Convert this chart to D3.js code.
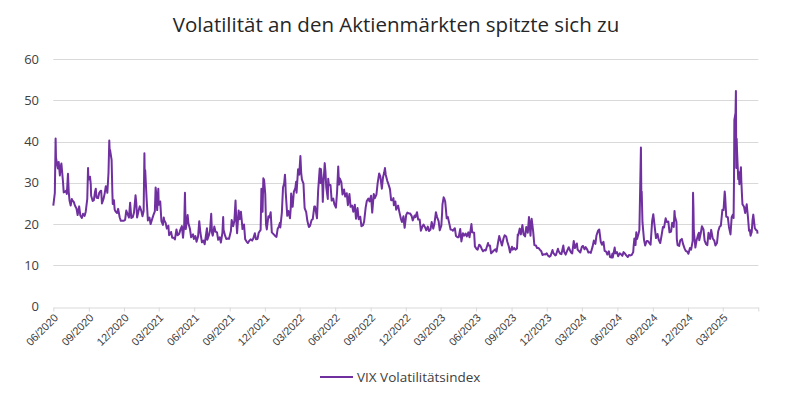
<!DOCTYPE html>
<html>
<head>
<meta charset="utf-8">
<script src="https://cdn.jsdelivr.net/npm/d3@7"></script>
<style>
  body { margin: 0; background: #fff; }
  svg { display: block; font-family: "Open Sans", "Noto Sans", sans-serif; }
  .grid line { stroke: #d9d9d9; stroke-width: 1; }
  .axis .domain, .axis line { stroke: #d9d9d9; }
  .axis text { fill: #404040; }
</style>
</head>
<body>
<svg width="792" height="395"></svg>
<script>
// VIX closing values (date, value)
var vix2020 = [["2020-06-05",24.5],["2020-06-09",27.6],["2020-06-11",40.8],["2020-06-12",36.1],["2020-06-15",34.4],["2020-06-17",33.5],["2020-06-19",35.1],["2020-06-22",31.8],["2020-06-24",33.8],["2020-06-26",34.7],["2020-06-30",30.4],["2020-07-02",27.7],["2020-07-06",27.9],["2020-07-08",28.1],["2020-07-10",27.3],["2020-07-13",32.2],["2020-07-15",27.8],["2020-07-17",25.7],["2020-07-20",24.5],["2020-07-23",26.1],["2020-07-24",25.8],["2020-07-28",25.4],["2020-07-31",24.5],["2020-08-04",23.8],["2020-08-07",22.2],["2020-08-11",24.3],["2020-08-14",22.1],["2020-08-18",21.5],["2020-08-21",22.5],["2020-08-25",22.0],["2020-08-28",23.0],["2020-09-01",26.1],["2020-09-03",33.6],["2020-09-04",30.8],["2020-09-08",31.5],["2020-09-10",29.7],["2020-09-11",26.9],["2020-09-15",25.6],["2020-09-18",25.8],["2020-09-21",27.8],["2020-09-23",28.6],["2020-09-25",26.4],["2020-09-29",26.3],["2020-10-02",27.6],["2020-10-05",28.0],["2020-10-07",28.1],["2020-10-09",25.0],["2020-10-13",26.1],["2020-10-16",27.4],["2020-10-19",29.2],["2020-10-21",28.7],["2020-10-23",27.6],["2020-10-26",32.5],["2020-10-28",40.3],["2020-10-29",37.6],["2020-10-30",38.0],["2020-11-03",35.6],["2020-11-05",27.6],["2020-11-06",24.9],["2020-11-09",25.8],["2020-11-11",23.5],["2020-11-13",23.1],["2020-11-17",22.7],["2020-11-20",23.7],["2020-11-24",21.6],["2020-11-27",20.8],["2020-12-01",20.8],["2020-12-04",20.8],["2020-12-08",21.0],["2020-12-11",23.3],["2020-12-15",22.3],["2020-12-18",21.6],["2020-12-21",25.2],["2020-12-24",21.5],["2020-12-28",21.7],["2020-12-31",22.8]];

var vix2021 = [["2021-01-04",27.0],["2021-01-06",25.1],["2021-01-08",21.6],["2021-01-12",23.3],["2021-01-15",24.3],["2021-01-19",23.2],["2021-01-22",21.9],["2021-01-25",23.2],["2021-01-27",37.2],["2021-01-28",30.2],["2021-01-29",33.1],["2021-02-02",25.6],["2021-02-05",20.9],["2021-02-09",21.6],["2021-02-12",20.0],["2021-02-17",21.5],["2021-02-19",22.1],["2021-02-23",23.1],["2021-02-25",28.9],["2021-02-26",28.0],["2021-03-01",23.4],["2021-03-04",28.6],["2021-03-05",24.7],["2021-03-09",25.5],["2021-03-12",20.7],["2021-03-16",19.8],["2021-03-18",21.6],["2021-03-19",21.0],["2021-03-23",20.3],["2021-03-26",18.9],["2021-03-30",19.6],["2021-04-01",17.3],["2021-04-06",18.1],["2021-04-09",16.7],["2021-04-13",16.7],["2021-04-16",16.3],["2021-04-20",18.7],["2021-04-23",17.3],["2021-04-27",17.6],["2021-04-30",18.6],["2021-05-04",19.5],["2021-05-07",16.7],["2021-05-10",19.7],["2021-05-12",27.6],["2021-05-13",23.1],["2021-05-14",18.8],["2021-05-18",21.3],["2021-05-19",22.2],["2021-05-21",20.2],["2021-05-25",18.8],["2021-05-28",16.8],["2021-06-02",17.5],["2021-06-04",16.4],["2021-06-08",17.1],["2021-06-11",15.7],["2021-06-15",17.0],["2021-06-18",20.7],["2021-06-21",17.9],["2021-06-25",15.6],["2021-06-29",16.0],["2021-07-02",15.1],["2021-07-08",19.0],["2021-07-09",16.2],["2021-07-13",17.3],["2021-07-16",18.5],["2021-07-19",22.5],["2021-07-21",17.9],["2021-07-23",17.2],["2021-07-27",19.4],["2021-07-30",18.2],["2021-08-03",18.0],["2021-08-06",16.2],["2021-08-10",16.8],["2021-08-13",15.5],["2021-08-17",17.9],["2021-08-19",21.7],["2021-08-20",18.6],["2021-08-24",17.2],["2021-08-27",16.4],["2021-08-31",16.5],["2021-09-03",16.4],["2021-09-08",18.3],["2021-09-10",21.0],["2021-09-14",19.5],["2021-09-17",20.8],["2021-09-20",25.7],["2021-09-22",20.9],["2021-09-24",17.8],["2021-09-28",23.3],["2021-10-01",21.2],["2021-10-04",23.0],["2021-10-06",21.0],["2021-10-08",18.8],["2021-10-12",19.9],["2021-10-15",16.3],["2021-10-19",15.7],["2021-10-22",15.4],["2021-10-26",16.0],["2021-10-29",16.3],["2021-11-02",16.0],["2021-11-05",16.5],["2021-11-09",17.8],["2021-11-12",16.3],["2021-11-16",16.4],["2021-11-19",17.9],["2021-11-24",18.6],["2021-11-26",28.6],["2021-11-29",23.0],["2021-11-30",27.2],["2021-12-01",31.1],["2021-12-03",30.7],["2021-12-06",27.2],["2021-12-08",19.9],["2021-12-10",18.7],["2021-12-14",21.9],["2021-12-17",21.6],["2021-12-20",22.9],["2021-12-23",18.0],["2021-12-28",17.5],["2021-12-31",17.2]];

var vix2022 = [["2022-01-04",16.9],["2022-01-07",18.8],["2022-01-10",19.4],["2022-01-13",20.3],["2022-01-14",19.2],["2022-01-18",22.8],["2022-01-21",28.9],["2022-01-24",29.9],["2022-01-26",32.0],["2022-01-27",30.5],["2022-01-28",27.7],["2022-02-01",22.0],["2022-02-04",23.2],["2022-02-08",21.4],["2022-02-10",23.9],["2022-02-11",27.4],["2022-02-15",24.2],["2022-02-18",27.8],["2022-02-22",28.8],["2022-02-24",30.3],["2022-02-25",27.6],["2022-03-01",33.3],["2022-03-04",32.0],["2022-03-07",36.5],["2022-03-09",32.5],["2022-03-11",30.8],["2022-03-15",29.8],["2022-03-17",25.7],["2022-03-18",23.9],["2022-03-22",22.9],["2022-03-25",20.8],["2022-03-29",19.3],["2022-04-01",19.6],["2022-04-05",21.0],["2022-04-08",21.2],["2022-04-12",24.3],["2022-04-14",24.3],["2022-04-19",21.4],["2022-04-22",28.2],["2022-04-26",33.5],["2022-04-28",30.0],["2022-04-29",33.4],["2022-05-03",29.3],["2022-05-04",25.4],["2022-05-06",30.2],["2022-05-09",34.8],["2022-05-11",32.6],["2022-05-13",28.9],["2022-05-17",26.1],["2022-05-18",31.0],["2022-05-20",29.4],["2022-05-24",29.5],["2022-05-27",25.7],["2022-05-31",26.2],["2022-06-03",24.8],["2022-06-07",24.0],["2022-06-10",27.8],["2022-06-13",34.0],["2022-06-15",29.6],["2022-06-17",31.1],["2022-06-21",30.2],["2022-06-24",27.2],["2022-06-28",28.4],["2022-07-01",26.7],["2022-07-05",27.5],["2022-07-08",24.6],["2022-07-12",27.3],["2022-07-15",24.2],["2022-07-19",24.5],["2022-07-22",23.0],["2022-07-26",24.7],["2022-07-29",21.3],["2022-08-02",23.9],["2022-08-05",21.2],["2022-08-09",21.8],["2022-08-12",19.5],["2022-08-16",19.7],["2022-08-19",20.6],["2022-08-23",24.0],["2022-08-26",25.6],["2022-08-30",26.2],["2022-09-02",25.5],["2022-09-06",26.9],["2022-09-09",22.8],["2022-09-13",27.3],["2022-09-16",26.3],["2022-09-20",27.2],["2022-09-23",29.9],["2022-09-27",32.3],["2022-09-29",31.8],["2022-09-30",31.6],["2022-10-04",28.6],["2022-10-07",31.4],["2022-10-10",32.5],["2022-10-12",33.6],["2022-10-14",32.0],["2022-10-18",30.5],["2022-10-21",29.7],["2022-10-25",28.5],["2022-10-28",25.8],["2022-11-01",25.8],["2022-11-03",26.3],["2022-11-04",24.6],["2022-11-08",25.5],["2022-11-10",23.5],["2022-11-15",24.5],["2022-11-18",23.1],["2022-11-22",21.4],["2022-11-25",20.5],["2022-11-29",21.9],["2022-12-01",19.8],["2022-12-02",19.1],["2022-12-06",22.2],["2022-12-09",22.8],["2022-12-13",22.6],["2022-12-16",22.6],["2022-12-20",22.0],["2022-12-23",20.9],["2022-12-28",22.1],["2022-12-30",21.7]];

var vix2023 = [["2023-01-03",22.9],["2023-01-06",21.1],["2023-01-10",21.1],["2023-01-13",18.4],["2023-01-17",19.4],["2023-01-20",19.9],["2023-01-24",19.2],["2023-01-27",18.5],["2023-01-31",19.4],["2023-02-03",18.3],["2023-02-07",18.7],["2023-02-10",20.5],["2023-02-14",18.9],["2023-02-17",20.0],["2023-02-21",22.9],["2023-02-24",21.7],["2023-02-28",20.7],["2023-03-03",18.5],["2023-03-07",19.6],["2023-03-09",22.6],["2023-03-10",24.8],["2023-03-13",26.5],["2023-03-15",26.1],["2023-03-17",25.5],["2023-03-21",21.4],["2023-03-24",21.7],["2023-03-28",20.0],["2023-03-31",18.7],["2023-04-04",18.6],["2023-04-06",18.4],["2023-04-11",19.0],["2023-04-14",17.1],["2023-04-18",16.8],["2023-04-21",16.8],["2023-04-25",18.8],["2023-04-28",15.8],["2023-05-02",17.8],["2023-05-05",17.2],["2023-05-09",17.7],["2023-05-12",17.0],["2023-05-16",18.0],["2023-05-19",16.8],["2023-05-24",20.0],["2023-05-26",18.0],["2023-05-31",17.9],["2023-06-02",14.6],["2023-06-06",14.0],["2023-06-09",13.8],["2023-06-13",15.0],["2023-06-16",14.8],["2023-06-20",13.9],["2023-06-23",13.4],["2023-06-27",13.7],["2023-06-30",13.6],["2023-07-06",15.4],["2023-07-07",14.8],["2023-07-11",14.8],["2023-07-14",12.9],["2023-07-18",13.3],["2023-07-21",13.6],["2023-07-25",13.9],["2023-07-28",13.3],["2023-08-02",16.1],["2023-08-04",17.1],["2023-08-08",15.8],["2023-08-11",14.8],["2023-08-15",16.5],["2023-08-18",17.3],["2023-08-22",17.0],["2023-08-25",15.7],["2023-08-29",14.5],["2023-09-01",13.1],["2023-09-06",14.5],["2023-09-08",13.8],["2023-09-12",14.2],["2023-09-15",13.8],["2023-09-19",14.1],["2023-09-21",17.5],["2023-09-22",17.2],["2023-09-26",18.9],["2023-09-29",17.5],["2023-10-03",19.8],["2023-10-06",17.5],["2023-10-10",17.0],["2023-10-13",19.3],["2023-10-17",17.9],["2023-10-20",21.7],["2023-10-24",17.2],["2023-10-26",20.7],["2023-10-27",21.3],["2023-10-31",18.1],["2023-11-03",14.9],["2023-11-07",14.8],["2023-11-10",14.2],["2023-11-14",14.2],["2023-11-17",13.8],["2023-11-21",13.4],["2023-11-24",12.5],["2023-11-28",12.7],["2023-12-01",12.6],["2023-12-05",12.9],["2023-12-08",12.4],["2023-12-12",12.1],["2023-12-15",12.3],["2023-12-20",13.7],["2023-12-22",13.0],["2023-12-27",12.4],["2023-12-29",12.5]];

var vix2024 = [["2024-01-03",14.0],["2024-01-05",13.4],["2024-01-09",12.8],["2024-01-12",12.7],["2024-01-17",14.8],["2024-01-19",13.3],["2024-01-23",12.6],["2024-01-26",13.3],["2024-01-31",14.4],["2024-02-02",13.9],["2024-02-06",13.1],["2024-02-09",12.9],["2024-02-13",15.9],["2024-02-16",14.2],["2024-02-21",15.3],["2024-02-23",13.8],["2024-02-27",13.4],["2024-03-01",13.1],["2024-03-05",14.5],["2024-03-08",14.7],["2024-03-12",13.9],["2024-03-15",14.4],["2024-03-19",13.8],["2024-03-22",13.1],["2024-03-26",13.2],["2024-03-28",13.0],["2024-04-02",14.6],["2024-04-05",16.0],["2024-04-09",15.2],["2024-04-12",17.3],["2024-04-16",18.4],["2024-04-19",18.7],["2024-04-23",15.7],["2024-04-26",15.0],["2024-04-30",15.7],["2024-05-03",13.5],["2024-05-07",13.3],["2024-05-10",12.6],["2024-05-14",13.4],["2024-05-17",12.0],["2024-05-21",11.9],["2024-05-23",12.8],["2024-05-24",11.9],["2024-05-29",14.3],["2024-05-31",12.9],["2024-06-04",13.2],["2024-06-07",12.2],["2024-06-11",12.9],["2024-06-14",12.7],["2024-06-18",12.3],["2024-06-21",13.2],["2024-06-25",12.8],["2024-06-28",12.4],["2024-07-02",12.0],["2024-07-05",12.5],["2024-07-09",12.4],["2024-07-12",12.5],["2024-07-16",13.2],["2024-07-17",14.5],["2024-07-19",16.5],["2024-07-22",14.9],["2024-07-24",18.0],["2024-07-26",16.4],["2024-07-30",17.7],["2024-08-01",18.6],["2024-08-02",23.4],["2024-08-05",38.6],["2024-08-06",27.7],["2024-08-07",27.9],["2024-08-09",20.4],["2024-08-13",16.2],["2024-08-16",14.8],["2024-08-20",15.9],["2024-08-23",15.9],["2024-08-27",15.4],["2024-08-30",15.0],["2024-09-03",20.7],["2024-09-06",22.4],["2024-09-10",19.1],["2024-09-13",16.6],["2024-09-17",17.6],["2024-09-20",16.2],["2024-09-24",15.4],["2024-09-27",17.0],["2024-10-01",19.3],["2024-10-04",19.2],["2024-10-08",21.4],["2024-10-11",20.5],["2024-10-15",20.6],["2024-10-18",18.0],["2024-10-22",18.2],["2024-10-25",20.3],["2024-10-29",19.3],["2024-10-31",23.2],["2024-11-01",21.9],["2024-11-05",20.5],["2024-11-06",16.3],["2024-11-08",14.9],["2024-11-12",14.7],["2024-11-15",16.1],["2024-11-19",16.4],["2024-11-22",15.2],["2024-11-26",14.1],["2024-11-29",13.5],["2024-12-03",13.3],["2024-12-06",12.8],["2024-12-10",14.2],["2024-12-13",13.8],["2024-12-17",15.9],["2024-12-18",27.6],["2024-12-19",24.1],["2024-12-20",18.4],["2024-12-24",14.3],["2024-12-27",16.0],["2024-12-31",17.4]];

var vix2025 = [["2025-01-02",17.9],["2025-01-03",16.1],["2025-01-07",17.8],["2025-01-10",19.5],["2025-01-14",18.7],["2025-01-17",16.0],["2025-01-21",15.1],["2025-01-24",14.9],["2025-01-27",17.9],["2025-01-29",16.6],["2025-01-31",16.4],["2025-02-03",18.6],["2025-02-07",16.5],["2025-02-11",16.0],["2025-02-14",14.8],["2025-02-18",15.4],["2025-02-21",18.2],["2025-02-25",19.4],["2025-02-28",19.6],["2025-03-04",23.5],["2025-03-07",23.4],["2025-03-10",27.9],["2025-03-11",26.9],["2025-03-14",21.8],["2025-03-18",21.7],["2025-03-21",19.3],["2025-03-25",17.5],["2025-03-28",21.7],["2025-03-31",22.3],["2025-04-02",21.5],["2025-04-03",30.0],["2025-04-04",45.3],["2025-04-07",47.0],["2025-04-08",52.3],["2025-04-09",33.6],["2025-04-10",40.7],["2025-04-11",37.6],["2025-04-14",30.9],["2025-04-16",32.6],["2025-04-17",29.7],["2025-04-21",33.8],["2025-04-22",30.6],["2025-04-24",26.5],["2025-04-25",24.8],["2025-04-29",24.2],["2025-05-02",22.7],["2025-05-06",24.8],["2025-05-09",21.9],["2025-05-12",18.4],["2025-05-14",18.6],["2025-05-16",17.2],["2025-05-19",18.1],["2025-05-21",20.9],["2025-05-23",22.3],["2025-05-27",19.0],["2025-05-30",18.6],["2025-06-02",18.4],["2025-06-03",17.7]];

var tickLabels = ["06/2020","09/2020","12/2020","03/2021","06/2021","09/2021","12/2021","03/2022","06/2022","09/2022","12/2022","03/2023","06/2023","09/2023","12/2023","03/2024","06/2024","09/2024","12/2024","03/2025",""];
var yTicks = [0, 10, 20, 30, 40, 50, 60];
var seriesName = "VIX Volatilitätsindex";
var chartTitle = "Volatilität an den Aktienmärkten spitzte sich zu";

var svg = d3.select("svg");
var parse = d3.timeParse("%Y-%m-%d");

var data = [].concat(vix2020, vix2021, vix2022, vix2023, vix2024, vix2025).map(function(d) {
    return { date: parse(d[0]), value: d[1] };
});

// quarterly ticks starting at the first date of the axis
var tickDates = tickLabels.map(function(l, i) { return new Date(2020, 5 + 3 * i, 5); });

var x = d3.scaleTime()
    .domain([tickDates[0], tickDates[tickDates.length - 1]])
    .range([53.3, 758.3]);

var y = d3.scaleLinear()
    .domain([0, 60])
    .range([306.5, 59.3]);

// title
svg.append("text")
    .attr("x", 396)
    .attr("y", 32)
    .attr("text-anchor", "middle")
    .style("font-size", "20.5px")
    .style("fill", "#262626")
    .text(chartTitle);

// horizontal gridlines
svg.append("g")
    .attr("class", "grid")
    .selectAll("line")
    .data(yTicks.slice(1))
    .enter()
    .append("line")
        .attr("x1", x.range()[0])
        .attr("x2", x.range()[1])
        .attr("y1", function(d) { return Math.round(y(d)) + 0.5; })
        .attr("y2", function(d) { return Math.round(y(d)) + 0.5; });

// y axis labels
svg.append("g")
    .attr("class", "axis")
    .selectAll("text")
    .data(yTicks)
    .enter()
    .append("text")
        .attr("x", 39)
        .attr("y", function(d) { return y(d); })
        .attr("dy", "0.35em")
        .attr("text-anchor", "end")
        .style("font-size", "13px")
        .text(function(d) { return d; });

// x axis
var xAxis = svg.append("g")
    .attr("class", "axis")
    .attr("transform", "translate(0," + (Math.round(y(0)) + 0.5) + ")")
    .call(d3.axisBottom(x)
        .tickValues(tickDates)
        .tickSize(4)
        .tickSizeOuter(0)
        .tickFormat(function(d, i) { return tickLabels[i]; }));

xAxis.selectAll("text")
    .style("font-size", "11px")
    .attr("text-anchor", "end")
    .attr("dy", null)
    .attr("y", 0)
    .attr("transform", "translate(5,11) rotate(-45)");

// line
var line = d3.line()
    .x(function(d) { return x(d.date); })
    .y(function(d) { return y(d.value); });

svg.append("path")
    .datum(data)
    .attr("fill", "none")
    .attr("stroke", "#7030a0")
    .attr("stroke-width", 2)
    .attr("stroke-linejoin", "round")
    .attr("d", line);

// legend
var legend = svg.append("g").attr("transform", "translate(320,377)");
legend.append("line")
    .attr("x1", 0).attr("x2", 33)
    .attr("stroke", "#7030a0")
    .attr("stroke-width", 2);
legend.append("text")
    .attr("x", 37)
    .attr("dy", "0.35em")
    .style("font-size", "13.5px")
    .style("fill", "#404040")
    .text(seriesName);
</script>
</body>
</html>
